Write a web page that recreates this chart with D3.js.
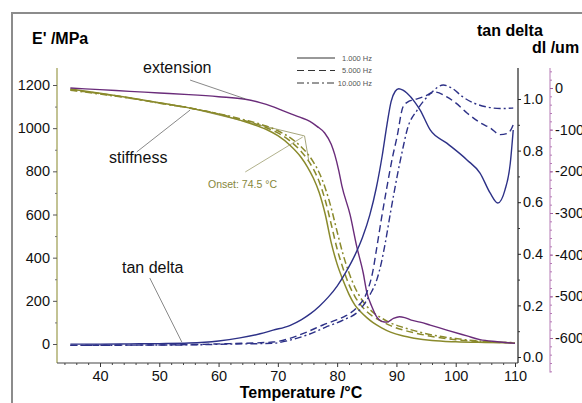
<!DOCTYPE html>
<html>
<head>
<meta charset="utf-8">
<script src="https://cdn.jsdelivr.net/npm/d3@7"></script>
<style>
  html, body { margin: 0; padding: 0; background: #fff; }
  svg { display: block; font-family: Arial, "Liberation Sans", sans-serif; }
</style>
</head>
<body>
<svg id="chart" width="582" height="403"></svg>
<script>
// ---- DMA data: storage modulus E', tan delta and probe extension vs temperature ----

// E' (MPa) at 1 Hz
const e1Temp = [35, 40, 45, 50, 55, 60, 65, 68, 70, 72, 74, 75, 76, 77, 78, 79, 80, 81, 82, 83, 84, 85, 86, 87.5, 89, 91, 93, 96, 100, 105, 110];
const e1Val  = [1181, 1162, 1141, 1118, 1094, 1064, 1025, 995, 965, 922, 862, 820, 768, 700, 600, 470, 370, 295, 230, 180, 148, 122, 100, 75, 55, 38, 27, 16, 10, 7, 5];
// E' (MPa) at 5 Hz
const e5Temp = [35, 40, 45, 50, 55, 60, 65, 68, 70, 72, 74, 75, 76, 77, 78, 79, 80, 81, 82, 83, 84, 85, 86, 87.5, 89, 91, 93, 96, 100, 105, 110];
const e5Val  = [1178, 1160, 1140, 1117, 1094, 1066, 1030, 1003, 978, 942, 890, 855, 810, 750, 665, 555, 440, 350, 275, 220, 180, 150, 128, 105, 85, 66, 52, 35, 20, 10, 5];
// E' (MPa) at 10 Hz
const e10Temp = [35, 40, 45, 50, 55, 60, 65, 68, 70, 72, 74, 75, 76, 77, 78, 79, 80, 81, 82, 83, 84, 85, 86, 87.5, 89, 91, 93, 96, 100, 105, 110];
const e10Val  = [1176, 1158, 1139, 1116, 1094, 1067, 1034, 1010, 988, 957, 912, 882, 843, 792, 722, 630, 520, 415, 330, 262, 212, 175, 148, 120, 98, 78, 62, 42, 25, 12, 6];

// tan delta at 1 Hz
const t1Temp = [35, 40, 45, 50, 55, 60, 63.6, 67, 69.2, 72, 74, 75.5, 77, 78.5, 80, 81.5, 83, 84.3, 85.5, 86.6, 87.6, 88.4, 89.1, 89.8, 90.4, 91.1, 91.8, 93.1, 94, 95.7, 98.5, 101.9, 104.1, 105.8, 107.1, 108.3, 109.2, 109.7];
const t1Val  = [0.050, 0.050, 0.051, 0.052, 0.054, 0.062, 0.074, 0.090, 0.104, 0.122, 0.145, 0.168, 0.197, 0.232, 0.275, 0.330, 0.395, 0.465, 0.550, 0.655, 0.780, 0.900, 0.990, 1.030, 1.040, 1.034, 1.022, 0.988, 0.957, 0.880, 0.829, 0.764, 0.713, 0.636, 0.597, 0.647, 0.750, 0.880];
// tan delta at 5 Hz
const t5Temp = [35, 45, 55, 62, 69.2, 72, 74.9, 77.6, 80, 81.5, 83.4, 85, 86, 86.7, 87.5, 88.4, 89.3, 90.1, 91.1, 92, 92.8, 94.5, 96.5, 98.5, 100, 101.9, 104, 105.8, 107.5, 108.6, 109.3, 109.7];
const t5Val  = [0.045, 0.046, 0.048, 0.052, 0.058, 0.072, 0.097, 0.124, 0.145, 0.160, 0.194, 0.250, 0.330, 0.426, 0.540, 0.659, 0.770, 0.853, 0.969, 0.990, 0.996, 1.008, 1.027, 1.008, 0.985, 0.946, 0.910, 0.888, 0.862, 0.866, 0.880, 0.900];
// tan delta at 10 Hz
const t10Temp = [35, 45, 55, 62, 69, 72, 74.9, 78, 81, 83.8, 85.5, 86.7, 87.5, 88.1, 89, 90.1, 91.1, 91.8, 93.5, 95.7, 97.9, 99.5, 101.2, 103, 105.3, 107.5, 109.7];
const t10Val  = [0.045, 0.046, 0.047, 0.050, 0.053, 0.065, 0.085, 0.115, 0.143, 0.182, 0.240, 0.300, 0.370, 0.440, 0.560, 0.698, 0.810, 0.880, 0.957, 1.020, 1.054, 1.040, 1.008, 0.985, 0.969, 0.963, 0.965];

// probe extension dl (um)
const dlTemp = [35, 40, 45, 50, 55, 60, 64.5, 67, 69, 70.4, 72, 73.7, 75.4, 76.6, 77.9, 79, 79.6, 80.3, 80.8, 82.2, 83.3, 84.4, 85, 85.9, 86.7, 87.5, 88.4, 89.5, 90.5, 91.4, 92.5, 94, 95.7, 98.5, 101.9, 104.1, 107, 110];
const dlVal  = [0, -4, -8, -12, -16, -21, -27, -35, -44, -52, -61, -70, -80, -92, -108, -135, -160, -200, -235, -305, -380, -444, -490, -526, -550, -560, -562, -553, -549, -551, -557, -562, -569, -581, -595, -604, -609, -613];

// axis ticks
const xTicks = [40, 50, 60, 70, 80, 90, 100, 110];
const eTicks = [0, 200, 400, 600, 800, 1000, 1200];
const tdTicks = [0.0, 0.2, 0.4, 0.6, 0.8, 1.0];
const dlTicks = [0, -100, -200, -300, -400, -500, -600];
const legendLabels = ["1.000 Hz", "5.000 Hz", "10.000 Hz"];

// onset construction (temperature, E')
const onsetTemp = 74.5;
const tangentTemp = [55.2, 74.5, 75.2];
const tangentVal  = [1093, 964, 852];

// ---- drawing ----
const svg = d3.select("#chart");
const olive = "#8a8a2c", navy = "#2d3187", purple = "#6a2c7a";
const plain = d => String(d);   // hyphen minus, no thousands separator

const x  = d3.scaleLinear().domain([40, 110]).range([100, 515]);
const yE = d3.scaleLinear().domain([0, 1200]).range([344, 85]);
const yT = d3.scaleLinear().domain([0, 1]).range([357, 99]);
const yD = d3.scaleLinear().domain([0, -600]).range([88, 338]);

// outer frame
svg.append("rect").attr("x", 12).attr("y", 13).attr("width", 620).attr("height", 420)
  .attr("fill", "none").attr("stroke", "#8c8c8c").attr("stroke-width", 2);

const zip = (a, b) => a.map((t, i) => [t, b[i]]);
const dashes = [null, "7,4", "7,3,2,3"];

function drawLine(data, yScale, color, dash, width) {
  const gen = d3.line().x(d => x(d[0])).y(d => yScale(d[1])).curve(d3.curveMonotoneX);
  svg.append("path").datum(data).attr("d", gen)
    .attr("fill", "none").attr("stroke", color).attr("stroke-width", width)
    .attr("stroke-dasharray", dash).attr("stroke-linejoin", "round");
}

// axes
const xAxisY = 363;
const fs = "14.5px";

// left E' axis
const gL = svg.append("g").attr("transform", "translate(57,0)");
gL.append("line").attr("y1", yE(1279)).attr("y2", yE(-88)).attr("stroke", "#a3a35a").attr("stroke-width", 1.3);
{
  const sub = gL.append("g").call(d3.axisLeft(yE).tickValues(eTicks).tickSize(4).tickPadding(3).tickFormat(plain));
  sub.select(".domain").remove();
  sub.selectAll("line").attr("stroke", "#555");
  sub.selectAll("text").style("font-size", fs).attr("fill", "#111");
  const m = gL.append("g").call(d3.axisLeft(yE).tickValues(d3.range(100, 1300, 200)).tickSize(2).tickFormat(""));
  m.select(".domain").remove();
  m.selectAll("line").attr("stroke", "#777");
}

// bottom temperature axis
const gB = svg.append("g").attr("transform", `translate(0,${xAxisY})`);
gB.append("line").attr("x1", x(32.75)).attr("x2", x(110.5)).attr("stroke", "#444").attr("stroke-width", 1.2);
{
  const sub = gB.append("g").call(d3.axisBottom(x).tickValues(xTicks).tickSize(4).tickPadding(4).tickFormat(plain));
  sub.select(".domain").remove();
  sub.selectAll("line").attr("stroke", "#333");
  sub.selectAll("text").style("font-size", fs).attr("fill", "#111");
  const m = gB.append("g").call(d3.axisBottom(x).tickValues(d3.range(34, 110, 2).filter(v => v % 10 !== 0)).tickSize(2).tickFormat(""));
  m.select(".domain").remove();
  m.selectAll("line").attr("stroke", "#444");
}

// right tan delta axis
const gT = svg.append("g").attr("transform", "translate(518,0)");
gT.append("line").attr("y1", yT(1.12)).attr("y2", xAxisY).attr("stroke", "#222").attr("stroke-width", 1.2);
{
  const sub = gT.append("g").call(d3.axisRight(yT).tickValues(tdTicks).tickSize(3).tickPadding(2).tickFormat(d3.format(".1f")));
  sub.select(".domain").remove();
  sub.selectAll("line").attr("stroke", "#222");
  sub.selectAll("text").style("font-size", fs).attr("fill", "#111");
  const m = gT.append("g").call(d3.axisRight(yT).tickValues([0.1, 0.3, 0.5, 0.7, 0.9]).tickSize(2).tickFormat(""));
  m.select(".domain").remove();
  m.selectAll("line").attr("stroke", "#333");
}

// far right dl axis
const gD = svg.append("g").attr("transform", "translate(550,0)");
gD.append("line").attr("y1", yD(48)).attr("y2", yD(-683)).attr("stroke", "#b57ab5").attr("stroke-width", 1);
{
  const m = gD.append("g").call(d3.axisRight(yD).tickValues(d3.range(40, -700, -20)).tickSize(2).tickFormat(""));
  m.select(".domain").remove();
  m.selectAll("line").attr("stroke", "#b57ab5");
  const sub = gD.append("g").call(d3.axisRight(yD).tickValues(dlTicks).tickSize(3).tickPadding(2).tickFormat(plain));
  sub.select(".domain").remove();
  sub.selectAll("line").attr("stroke", "#a060a0");
  sub.selectAll("text").style("font-size", fs).attr("fill", "#111");
}

// axis titles
svg.append("text").attr("x", 32).attr("y", 44).attr("font-weight", "bold").style("font-size", "16px").text("E' /MPa");
svg.append("text").attr("x", 477).attr("y", 36).attr("font-weight", "bold").style("font-size", "16px").text("tan delta");
svg.append("text").attr("x", 532).attr("y", 53).attr("font-weight", "bold").style("font-size", "16px").text("dl /um");
svg.append("text").attr("x", 301).attr("y", 398).attr("text-anchor", "middle").attr("font-weight", "bold").style("font-size", "16px").text("Temperature /°C");

// onset tangents
const tanGen = d3.line().x(d => x(d[0])).y(d => yE(d[1]));
svg.append("path").datum(zip(tangentTemp, tangentVal)).attr("d", tanGen)
  .attr("fill", "none").attr("stroke", "#8f8f5a").attr("stroke-width", 0.8);

// curves
const eSets = [zip(e1Temp, e1Val), zip(e5Temp, e5Val), zip(e10Temp, e10Val)];
const tSets = [zip(t1Temp, t1Val), zip(t5Temp, t5Val), zip(t10Temp, t10Val)];
eSets.forEach((d, i) => drawLine(d, yE, olive, dashes[i], 1.5));
drawLine(zip(dlTemp, dlVal), yD, purple, null, 1.4);
tSets.forEach((d, i) => drawLine(d, yT, navy, dashes[i], 1.4));

// annotation pointers
function pointer(t0, v0, t1, v1, yScale, color) {
  svg.append("line").attr("x1", x(t0)).attr("y1", yScale(v0)).attr("x2", x(t1)).attr("y2", yScale(v1))
    .attr("stroke", color).attr("stroke-width", 0.7);
}
pointer(55.2, 19, 64.5, -26, yD, "#555");
pointer(46.2, 890, 55.2, 1084, yE, "#555");
pointer(48.4, 0.306, 53.8, 0.058, yT, "#555");
pointer(64.5, 797, onsetTemp - 0.3, 959, yE, "#8f8f5a");

svg.append("text").attr("x", 143).attr("y", 73).style("font-size", "16px").attr("fill", "#111").text("extension");
svg.append("text").attr("x", 109).attr("y", 163).style("font-size", "16px").attr("fill", "#111").text("stiffness");
svg.append("text").attr("x", 122).attr("y", 273).style("font-size", "16px").attr("fill", "#111").text("tan delta");
svg.append("text").attr("x", 208).attr("y", 188).style("font-size", "10.5px").attr("fill", "#86863a").text(`Onset: ${onsetTemp} °C`);

// frequency legend
const leg = svg.append("g");
legendLabels.forEach((lab, i) => {
  const yy = 58 + i * 12.5;
  leg.append("line").attr("x1", 297).attr("x2", 335).attr("y1", yy).attr("y2", yy)
    .attr("stroke", "#333").attr("stroke-width", 1).attr("stroke-dasharray", dashes[i]);
  leg.append("text").attr("x", 372).attr("y", yy + 2.5).attr("text-anchor", "end")
    .style("font-size", "7.5px").attr("fill", "#555").text(lab);
});
</script>
</body>
</html>
